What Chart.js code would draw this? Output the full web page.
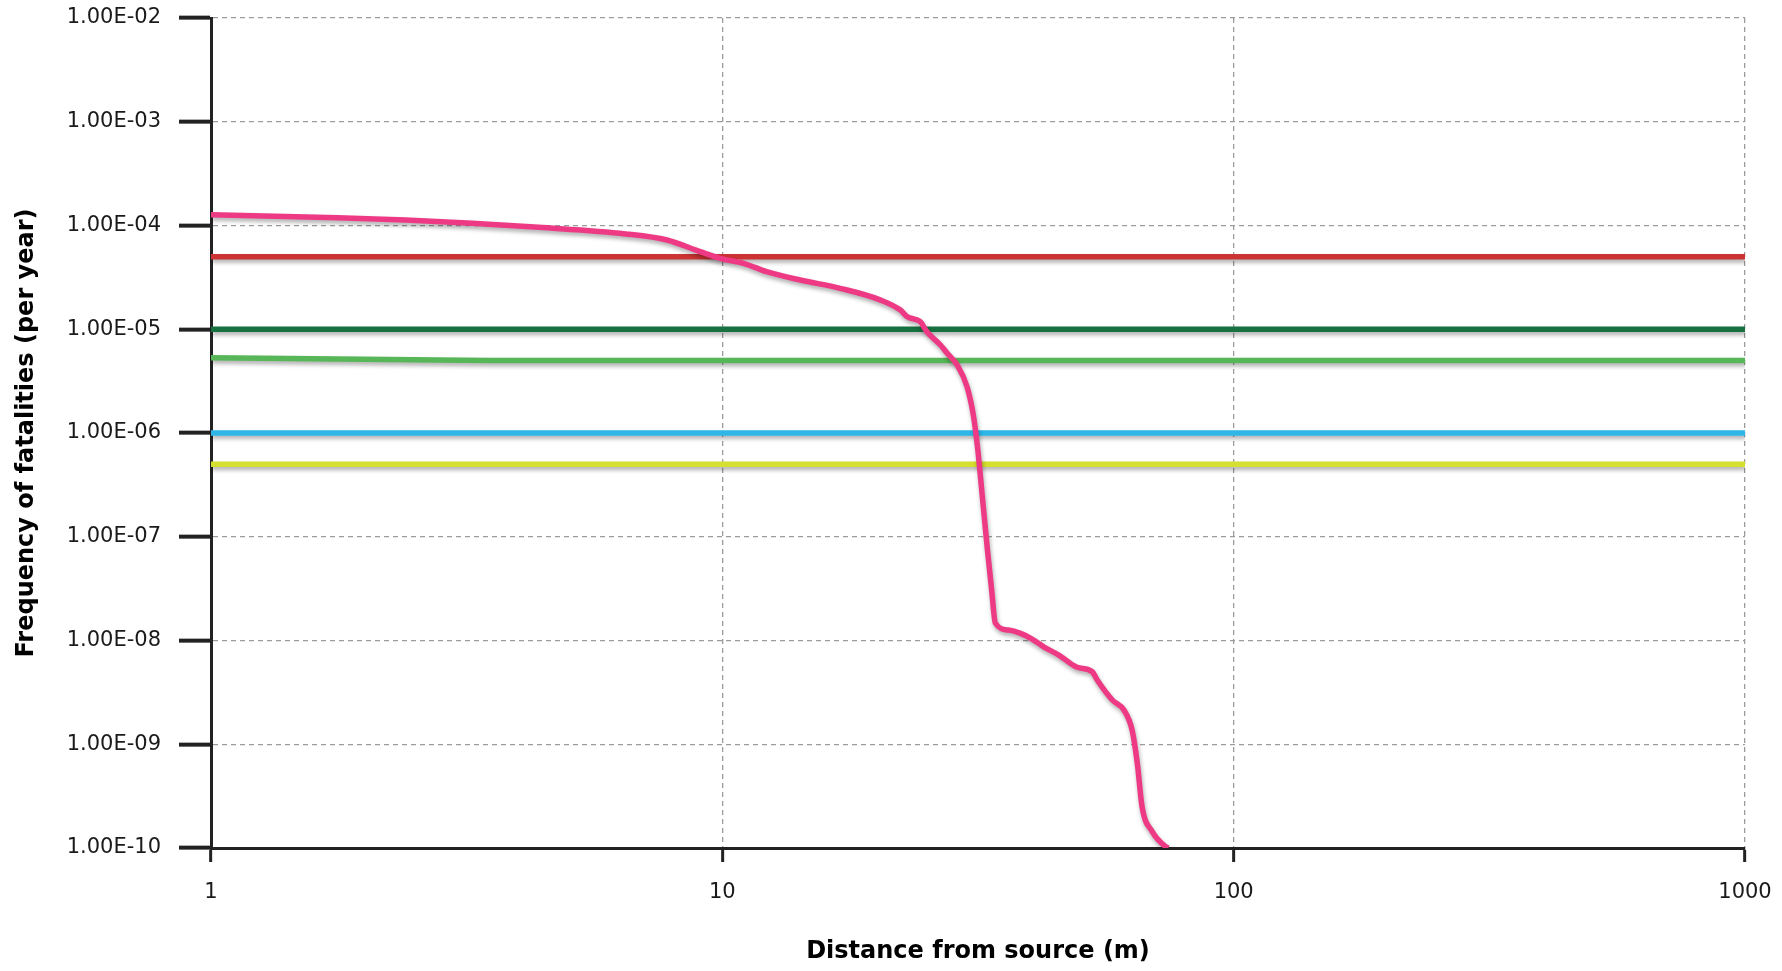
<!DOCTYPE html>
<html>
<head>
<meta charset="utf-8">
<title>Frequency of fatalities vs distance</title>
<script src="https://cdn.jsdelivr.net/npm/chart.js@4/dist/chart.umd.min.js"></script>
<style>
  html, body { margin: 0; padding: 0; background: #ffffff; }
  #wrap { width: 1782px; height: 971px; position: relative; }
</style>
</head>
<body>
<div id="wrap"><canvas id="chart"></canvas></div>
<script>
// Risk curve: frequency of fatalities (per year) against distance from source (m)
const distance = [
  1.0, 1.77, 2.4, 3.24, 4.37, 6.46, 7.79, 9.05, 9.9, 11.0, 12.2, 14.2, 17.0, 20.4,
  22.3, 23.0, 24.4, 25.1, 26.7, 27.5, 28.8, 30.1, 31.0, 31.6, 32.2, 33.0, 33.6,
  34.2, 36.3, 38.3, 40.1, 42.5, 45.5, 49.4, 52.9, 54.1, 57.9, 61.0, 63.3, 64.8,
  66.2, 69.3, 73.6, 74.5
];
const fatalityFrequency = [
  1.27e-4, 1.19e-4, 1.13e-4, 1.05e-4, 9.6e-5, 8.3e-5, 7.25e-5, 5.6e-5, 4.83e-5, 4.32e-5,
  3.59e-5, 2.98e-5, 2.48e-5, 1.91e-5, 1.53e-5, 1.32e-5, 1.18e-5, 9.5e-6, 7.05e-6, 5.9e-6,
  4.52e-6, 2.79e-6, 1.44e-6, 6.86e-7, 2.62e-7, 7.45e-8, 3.2e-8, 1.47e-8, 1.26e-8, 1.17e-8,
  1.05e-8, 8.7e-9, 7.24e-9, 5.52e-9, 5.0e-9, 4.16e-9, 2.67e-9, 2.14e-9, 1.37e-9, 6.54e-10,
  2.5e-10, 1.44e-10, 1.03e-10, 1.0e-10
];

// Horizontal criterion lines across the full distance range
const criterionDistance = [1, 1000];
const criterionRed = [5e-5, 5e-5];
const criterionDarkGreen = [1e-5, 1e-5];
const criterionLightGreenDistance = [1, 3.5, 1000];
const criterionLightGreen = [5.3e-6, 5.0e-6, 5.0e-6];
const criterionBlue = [1e-6, 1e-6];
const criterionYellow = [5e-7, 5e-7];

// Axis ticks
const xTickValues = [1, 10, 100, 1000];
const xTickLabels = ['1', '10', '100', '1000'];
const yTickValues = [1e-10, 1e-9, 1e-8, 1e-7, 1e-6, 1e-5, 1e-4, 1e-3, 1e-2];
const yTickLabels = ['1.00E-10', '1.00E-09', '1.00E-08', '1.00E-07', '1.00E-06',
                     '1.00E-05', '1.00E-04', '1.00E-03', '1.00E-02'];

const toPoints = (xs, ys) => xs.map((x, i) => ({ x: x, y: ys[i] }));

// Soft drop shadow under each plotted line
const lineShadow = {
  id: 'lineShadow',
  beforeDatasetDraw(chart) {
    const ctx = chart.ctx;
    ctx.save();
    ctx.shadowColor = 'rgba(0,0,0,0.32)';
    ctx.shadowBlur = 4;
    ctx.shadowOffsetX = 1;
    ctx.shadowOffsetY = 3;
  },
  afterDatasetDraw(chart) {
    chart.ctx.restore();
  }
};

const lineStyle = (color) => ({
  borderColor: color,
  backgroundColor: color,
  borderWidth: 5.5,
  pointRadius: 0,
  pointHoverRadius: 0,
  fill: false,
  showLine: true,
  tension: 0
});

const FONT = "'DejaVu Sans', 'Noto Sans', sans-serif";

new Chart(document.getElementById('chart'), {
  type: 'scatter',
  data: {
    datasets: [
      Object.assign({ label: 'Risk', data: toPoints(distance, fatalityFrequency), cubicInterpolationMode: 'monotone' }, lineStyle('#ee3a85')),
      Object.assign({ label: '5E-5', data: toPoints(criterionDistance, criterionRed) }, lineStyle('#cc3333')),
      Object.assign({ label: '1E-5', data: toPoints(criterionDistance, criterionDarkGreen) }, lineStyle('#17703f')),
      Object.assign({ label: '5E-6', data: toPoints(criterionLightGreenDistance, criterionLightGreen) }, lineStyle('#57b657')),
      Object.assign({ label: '1E-6', data: toPoints(criterionDistance, criterionBlue) }, lineStyle('#2cb7e8')),
      Object.assign({ label: '5E-7', data: toPoints(criterionDistance, criterionYellow) }, lineStyle('#d5df2d'))
    ]
  },
  options: {
    responsive: true,
    maintainAspectRatio: false,
    animation: false,
    events: [],
    layout: { padding: { top: 18, right: 37, bottom: 0, left: 0 } },
    plugins: {
      legend: { display: false },
      tooltip: { enabled: false }
    },
    scales: {
      x: {
        type: 'logarithmic',
        min: 1,
        max: 1000,
        afterBuildTicks: (scale) => { scale.ticks = xTickValues.map(v => ({ value: v })); },
        afterFit: (scale) => {
          scale.height = 123;
          scale.paddingLeft = 0;
          scale.paddingRight = 0;
        },
        ticks: {
          autoSkip: false,
          maxRotation: 0,
          padding: 18,
          color: '#1a1a1a',
          font: { family: FONT, size: 21 },
          callback: (value, index) => xTickLabels[index]
        },
        grid: {
          color: '#9c9c9c',
          lineWidth: 1.3,
          drawTicks: true,
          tickLength: 14,
          tickColor: '#222222',
          tickWidth: 3,
          tickBorderDash: []
        },
        border: { display: true, color: '#222222', width: 3, dash: [5, 4] },
        title: {
          display: true,
          text: 'Distance from source (m)',
          color: '#000000',
          font: { family: FONT, size: 24, weight: 'bold' },
          padding: { top: 0, bottom: 5 }
        }
      },
      y: {
        type: 'logarithmic',
        min: 1e-10,
        max: 1e-2,
        afterBuildTicks: (scale) => { scale.ticks = yTickValues.map(v => ({ value: v })); },
        afterFit: (scale) => {
          scale.width = 211;
          scale.paddingTop = 0;
          scale.paddingBottom = 0;
        },
        ticks: {
          autoSkip: false,
          padding: 18,
          color: '#1a1a1a',
          font: { family: FONT, size: 21 },
          callback: (value, index) => yTickLabels[index]
        },
        grid: {
          color: '#9c9c9c',
          lineWidth: 1.3,
          drawTicks: true,
          tickLength: 32,
          tickColor: '#222222',
          tickWidth: 4,
          tickBorderDash: []
        },
        border: { display: true, color: '#222222', width: 3, dash: [5, 4] },
        title: {
          display: true,
          text: 'Frequency of fatalities (per year)',
          color: '#000000',
          font: { family: FONT, size: 24, weight: 'bold' },
          padding: { top: 12, bottom: 0 }
        }
      }
    }
  },
  plugins: [lineShadow]
});
</script>
</body>
</html>
